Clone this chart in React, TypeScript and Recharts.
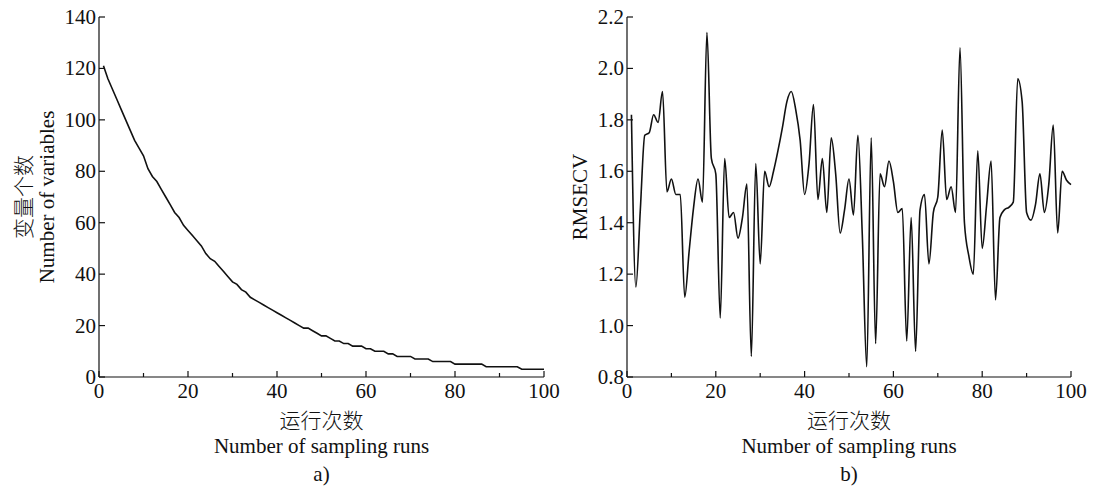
import React from 'react'
import { LineChart, Line, XAxis, YAxis } from 'recharts'

// sampling run index, 1..100
const runs: number[] = Array.from({ length: 100 }, (_, i) => i + 1)

// a) number of retained variables per run
const variableCounts: number[] = [
  121, 116, 112, 108, 104, 100, 96, 92, 89, 86,
  81, 78, 76, 73, 70, 67, 64, 62, 59, 57,
  55, 53, 51, 48, 46, 45, 43, 41, 39, 37,
  36, 34, 33, 31, 30, 29, 28, 27, 26, 25,
  24, 23, 22, 21, 20, 19, 19, 18, 17, 16,
  16, 15, 14, 14, 13, 13, 12, 12, 12, 11,
  11, 10, 10, 10, 9, 9, 8, 8, 8, 8,
  7, 7, 7, 7, 6, 6, 6, 6, 6, 5,
  5, 5, 5, 5, 5, 5, 4, 4, 4, 4,
  4, 4, 4, 4, 3, 3, 3, 3, 3, 3
]

// b) RMSECV per run
const rmsecvValues: number[] = [
  1.82, 1.15, 1.45, 1.74, 1.75, 1.82, 1.79, 1.91, 1.52, 1.57,
  1.51, 1.51, 1.11, 1.29, 1.46, 1.57, 1.48, 2.14, 1.65, 1.59,
  1.03, 1.65, 1.42, 1.44, 1.34, 1.42, 1.55, 0.88, 1.63, 1.24,
  1.6, 1.54, 1.6, 1.68, 1.77, 1.87, 1.91, 1.84, 1.72, 1.51,
  1.63, 1.86, 1.49, 1.65, 1.44, 1.73, 1.59, 1.36, 1.45, 1.57,
  1.43, 1.74, 1.35, 0.84, 1.73, 0.93, 1.59, 1.54, 1.64, 1.56,
  1.44, 1.455, 0.94, 1.42, 0.9, 1.45, 1.51, 1.24, 1.44, 1.5,
  1.76, 1.49, 1.54, 1.44, 2.08, 1.4, 1.27, 1.2, 1.68, 1.3,
  1.47, 1.64, 1.1, 1.42, 1.45, 1.46, 1.48, 1.96, 1.87, 1.44,
  1.41, 1.47, 1.59, 1.44, 1.55, 1.78, 1.36, 1.6, 1.565, 1.548
]

const xTicks = [0, 10, 20, 30, 40, 50, 60, 70, 80, 90, 100]
const countTicks = [0, 20, 40, 60, 80, 100, 120, 140]
const rmsecvTicks = [0.8, 1.0, 1.2, 1.4, 1.6, 1.8, 2.0, 2.2]

const xTitleCn = '运行次数'
const xTitleEn = 'Number of sampling runs'

const countData = runs.map((run, i) => ({ run, value: variableCounts[i] }))
const rmsecvData = runs.map((run, i) => ({ run, value: rmsecvValues[i] }))

const SERIF = '"Liberation Serif", "Times New Roman", serif'
const CJK = '"Noto Sans CJK SC", sans-serif'
const FS = 21
const INK = '#111'

const XTick = (props: any) => {
  const { x, y, payload } = props
  const major = payload.value % 20 === 0
  return (
    <g>
      <line x1={x} y1={y} x2={x} y2={y - (major ? 6 : 4)} stroke={INK} strokeWidth={1.2} />
      {major && (
        <text x={x} y={y + 21} textAnchor="middle" fontFamily={SERIF} fontSize={FS} fill={INK}>
          {payload.value}
        </text>
      )}
    </g>
  )
}

const makeYTick = (digits: number) => (props: any) => {
  const { x, y, payload } = props
  return (
    <g>
      <line x1={x} y1={y} x2={x + 6} y2={y} stroke={INK} strokeWidth={1.2} />
      <text x={x - 3} y={y + 7} textAnchor="end" fontFamily={SERIF} fontSize={FS} fill={INK}>
        {Number(payload.value).toFixed(digits)}
      </text>
    </g>
  )
}

const xTitle = (panel: string) => (props: any) => {
  const { x, y, width } = props.viewBox
  const cx = x + width / 2
  return (
    <g>
      <text x={cx} y={y + 51} textAnchor="middle" fontFamily={CJK} fontWeight={300} fontSize={FS} fill={INK}>
        {xTitleCn}
      </text>
      <text x={cx} y={y + 76} textAnchor="middle" fontFamily={SERIF} fontSize={FS} fill={INK}>
        {xTitleEn}
      </text>
      <text x={cx} y={y + 104} textAnchor="middle" fontFamily={SERIF} fontSize={FS} fill={INK}>
        {panel}
      </text>
    </g>
  )
}

const yTitle = (lines: { text: string; dx: number; cjk?: boolean }[]) => (props: any) => {
  const { y, height } = props.viewBox
  const cy = y + height / 2
  return (
    <g>
      {lines.map((l) => (
        <text
          key={l.text}
          x={l.dx}
          y={cy}
          transform={`rotate(-90, ${l.dx}, ${cy})`}
          textAnchor="middle"
          dominantBaseline="central"
          fontFamily={l.cjk ? CJK : SERIF}
          fontWeight={l.cjk ? 300 : 400}
          fontSize={FS}
          fill={INK}
        >
          {l.text}
        </text>
      ))}
    </g>
  )
}

const axisLine = { stroke: INK, strokeWidth: 1.2 }

export default function App() {
  return (
    <div style={{ position: 'absolute', left: 0, top: 0, width: 1095, height: 488, background: '#fff' }}>
      <div style={{ position: 'absolute', left: 0, top: 0 }}>
        <LineChart width={560} height={488} data={countData} margin={{ top: 17, right: 16, bottom: 81, left: 39 }}>
          <XAxis
            dataKey="run"
            type="number"
            domain={[0, 100]}
            ticks={xTicks}
            interval={0}
            height={30}
            tickSize={0}
            tickMargin={0}
            tickLine={false}
            axisLine={axisLine}
            tick={<XTick />}
            label={{ content: xTitle('a)') }}
          />
          <YAxis
            type="number"
            domain={[0, 140]}
            ticks={countTicks}
            interval={0}
            width={60}
            tickSize={0}
            tickMargin={0}
            tickLine={false}
            axisLine={axisLine}
            tick={makeYTick(0)}
            label={{
              content: yTitle([
                { text: '变量个数', dx: 22, cjk: true },
                { text: 'Number of variables', dx: 47 }
              ])
            }}
          />
          <Line type="linear" dataKey="value" stroke={INK} strokeWidth={1.6} dot={false} isAnimationActive={false} />
        </LineChart>
      </div>
      <div style={{ position: 'absolute', left: 560, top: 0 }}>
        <LineChart width={535} height={488} data={rmsecvData} margin={{ top: 17, right: 24, bottom: 81, left: 7 }}>
          <XAxis
            dataKey="run"
            type="number"
            domain={[0, 100]}
            ticks={xTicks}
            interval={0}
            height={30}
            tickSize={0}
            tickMargin={0}
            tickLine={false}
            axisLine={axisLine}
            tick={<XTick />}
            label={{ content: xTitle('b)') }}
          />
          <YAxis
            type="number"
            domain={[0.8, 2.2]}
            ticks={rmsecvTicks}
            interval={0}
            width={60}
            tickSize={0}
            tickMargin={0}
            tickLine={false}
            axisLine={axisLine}
            tick={makeYTick(1)}
            label={{ content: yTitle([{ text: 'RMSECV', dx: 20 }]) }}
          />
          <Line type="monotone" dataKey="value" stroke={INK} strokeWidth={1.6} dot={false} isAnimationActive={false} />
        </LineChart>
      </div>
    </div>
  )
}
